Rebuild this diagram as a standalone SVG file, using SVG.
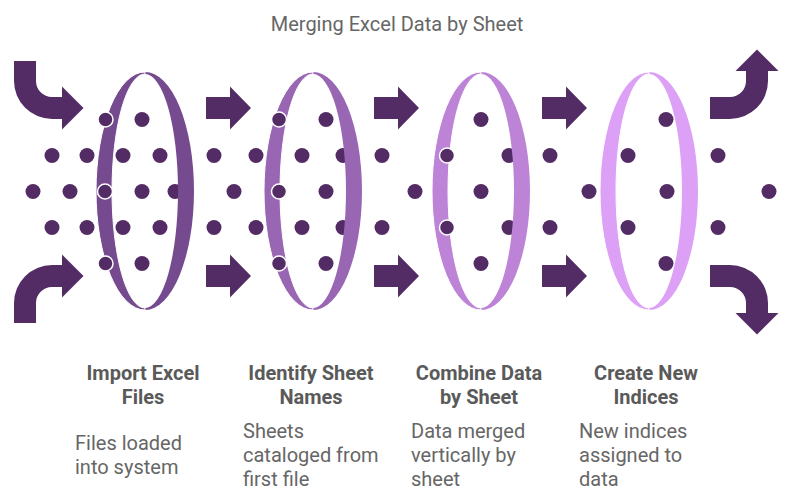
<svg xmlns="http://www.w3.org/2000/svg" width="794" height="504" viewBox="0 0 794 504">
  <style>
    .dot { fill: #542C65; }
    .odot { fill: #542C65; stroke: #ffffff; stroke-width: 1.5; }
    .arrow { fill: #542C65; }
    .front { stroke: #ffffff; stroke-width: 1; }
    .title { font-family: Roboto, "Liberation Sans", sans-serif; font-size: 20px; fill: #666666; text-anchor: middle; }
    .head { font-family: Roboto, "Liberation Sans", sans-serif; font-size: 20px; font-weight: bold; fill: #5a5a5a; text-anchor: middle; }
    .desc { font-family: Roboto, "Liberation Sans", sans-serif; font-size: 20px; fill: #666666; }
  </style>
  <rect width="794" height="504" fill="#ffffff"/>
  <text class="title" x="397" y="31">Merging Excel Data by Sheet</text>

  <g id="dots">
    <circle class="dot" cx="142" cy="119.5" r="7.5"/>
    <circle class="dot" cx="326" cy="119.5" r="7.5"/>
    <circle class="dot" cx="481" cy="119.5" r="7.5"/>
    <circle class="dot" cx="666" cy="119.5" r="7.5"/>

    <circle class="dot" cx="52" cy="155.5" r="7.5"/>
    <circle class="dot" cx="87" cy="155.5" r="7.5"/>
    <circle class="dot" cx="123" cy="155.5" r="7.5"/>
    <circle class="dot" cx="160" cy="155.5" r="7.5"/>
    <circle class="dot" cx="214" cy="155.5" r="7.5"/>
    <circle class="dot" cx="256" cy="155.5" r="7.5"/>
    <circle class="dot" cx="302" cy="155.5" r="7.5"/>
    <circle class="dot" cx="343" cy="155.5" r="7.5"/>
    <circle class="dot" cx="382" cy="155.5" r="7.5"/>
    <circle class="dot" cx="509" cy="155.5" r="7.5"/>
    <circle class="dot" cx="550" cy="155.5" r="7.5"/>
    <circle class="dot" cx="628" cy="155.5" r="7.5"/>
    <circle class="dot" cx="718" cy="155.5" r="7.5"/>

    <circle class="dot" cx="33" cy="191.5" r="7.5"/>
    <circle class="dot" cx="70" cy="191.5" r="7.5"/>
    <circle class="dot" cx="142" cy="191.5" r="7.5"/>
    <circle class="dot" cx="175" cy="191.5" r="7.5"/>
    <circle class="dot" cx="234" cy="191.5" r="7.5"/>
    <circle class="dot" cx="326" cy="191.5" r="7.5"/>
    <circle class="dot" cx="415" cy="191.5" r="7.5"/>
    <circle class="dot" cx="481" cy="191.5" r="7.5"/>
    <circle class="dot" cx="589" cy="191.5" r="7.5"/>
    <circle class="dot" cx="667" cy="191.5" r="7.5"/>
    <circle class="dot" cx="769" cy="191.5" r="7.5"/>

    <circle class="dot" cx="52" cy="227.5" r="7.5"/>
    <circle class="dot" cx="87" cy="227.5" r="7.5"/>
    <circle class="dot" cx="123" cy="227.5" r="7.5"/>
    <circle class="dot" cx="160" cy="227.5" r="7.5"/>
    <circle class="dot" cx="214" cy="227.5" r="7.5"/>
    <circle class="dot" cx="256" cy="227.5" r="7.5"/>
    <circle class="dot" cx="302" cy="227.5" r="7.5"/>
    <circle class="dot" cx="343" cy="227.5" r="7.5"/>
    <circle class="dot" cx="382" cy="227.5" r="7.5"/>
    <circle class="dot" cx="509" cy="227.5" r="7.5"/>
    <circle class="dot" cx="550" cy="227.5" r="7.5"/>
    <circle class="dot" cx="628" cy="227.5" r="7.5"/>
    <circle class="dot" cx="718" cy="227.5" r="7.5"/>

    <circle class="dot" cx="142" cy="263.5" r="7.5"/>
    <circle class="dot" cx="326" cy="263.5" r="7.5"/>
    <circle class="dot" cx="481" cy="263.5" r="7.5"/>
    <circle class="dot" cx="666" cy="263.5" r="7.5"/>
  </g>

  <g id="connectors">
    <path class="arrow" d="M14,61 L36,61 L36,81 A16,16 0 0 0 52,97 L62,97 L62,86.5 L83.5,108 L62,129.5 L62,119 L52,119 A38,38 0 0 1 14,81 Z"/>
    <path class="arrow" d="M14,323 L36,323 L36,303 A16,16 0 0 1 52,287 L62,287 L62,297.5 L83.5,276 L62,254.5 L62,265 L52,265 A38,38 0 0 0 14,303 Z"/>
    <polygon class="arrow" points="206,97 230,97 230,86.5 251,108 230,129.5 230,119 206,119"/>
    <polygon class="arrow" points="206,265 230,265 230,254.5 251,276 230,297.5 230,287 206,287"/>
    <polygon class="arrow" points="374,97 398,97 398,86.5 419,108 398,129.5 398,119 374,119"/>
    <polygon class="arrow" points="374,265 398,265 398,254.5 419,276 398,297.5 398,287 374,287"/>
    <polygon class="arrow" points="542,97 566,97 566,86.5 587,108 566,129.5 566,119 542,119"/>
    <polygon class="arrow" points="542,265 566,265 566,254.5 587,276 566,297.5 566,287 542,287"/>
    <path class="arrow" d="M710,97 L730,97 A16,16 0 0 0 746,81 L746,71 L735.5,71 L757,49.5 L778.5,71 L768,71 L768,81 A38,38 0 0 1 730,119 L710,119 Z"/>
    <path class="arrow" d="M710,287 L730,287 A16,16 0 0 1 746,303 L746,313 L735.5,313 L757,334.5 L778.5,313 L768,313 L768,303 A38,38 0 0 0 730,265 L710,265 Z"/>
  </g>

  <g id="stage1">
    <path fill="#764A8F" d="M145,72 A49,119 0 0 1 145,310 L145,308 A33,117 0 0 0 145,74 Z"/>
    <path class="front" fill="#764A8F" d="M145,72 A49,119 0 0 0 145,310 L145,308 A33,117 0 0 1 145,74 Z"/>
    <circle class="odot" cx="105.5" cy="119.5" r="7.5"/>
    <circle class="odot" cx="105" cy="191.5" r="7.5"/>
    <circle class="odot" cx="105.5" cy="263.5" r="7.5"/>
    <text class="head" x="143" y="380">Import Excel</text>
    <text class="head" x="143" y="404">Files</text>
    <text class="desc" x="75" y="450">Files loaded</text>
    <text class="desc" x="75" y="474">into system</text>
  </g>

  <g id="stage2">
    <path fill="#9966B3" d="M313,72 A49,119 0 0 1 313,310 L313,308 A33,117 0 0 0 313,74 Z"/>
    <path class="front" fill="#9966B3" d="M313,72 A49,119 0 0 0 313,310 L313,308 A33,117 0 0 1 313,74 Z"/>
    <circle class="odot" cx="279" cy="119.5" r="7.5"/>
    <circle class="odot" cx="279" cy="191.5" r="7.5"/>
    <circle class="odot" cx="279" cy="263.5" r="7.5"/>
    <text class="head" x="311" y="380">Identify Sheet</text>
    <text class="head" x="311" y="404">Names</text>
    <text class="desc" x="243" y="438">Sheets</text>
    <text class="desc" x="243" y="462">cataloged from</text>
    <text class="desc" x="243" y="486">first file</text>
  </g>

  <g id="stage3">
    <path fill="#BC83D6" d="M481,72 A49,119 0 0 1 481,310 L481,308 A33,117 0 0 0 481,74 Z"/>
    <path class="front" fill="#BC83D6" d="M481,72 A49,119 0 0 0 481,310 L481,308 A33,117 0 0 1 481,74 Z"/>
    <circle class="odot" cx="447" cy="155.5" r="7.5"/>
    <circle class="odot" cx="447" cy="227.5" r="7.5"/>
    <text class="head" x="479" y="380">Combine Data</text>
    <text class="head" x="479" y="404">by Sheet</text>
    <text class="desc" x="411" y="438">Data merged</text>
    <text class="desc" x="411" y="462">vertically by</text>
    <text class="desc" x="411" y="486">sheet</text>
  </g>

  <g id="stage4">
    <path fill="#DDA0F7" d="M649,72 A49,119 0 0 1 649,310 L649,308 A33,117 0 0 0 649,74 Z"/>
    <path class="front" fill="#DDA0F7" d="M649,72 A49,119 0 0 0 649,310 L649,308 A33,117 0 0 1 649,74 Z"/>
    <text class="head" x="646" y="380">Create New</text>
    <text class="head" x="646" y="404">Indices</text>
    <text class="desc" x="579" y="438">New indices</text>
    <text class="desc" x="579" y="462">assigned to</text>
    <text class="desc" x="579" y="486">data</text>
  </g>
</svg>
